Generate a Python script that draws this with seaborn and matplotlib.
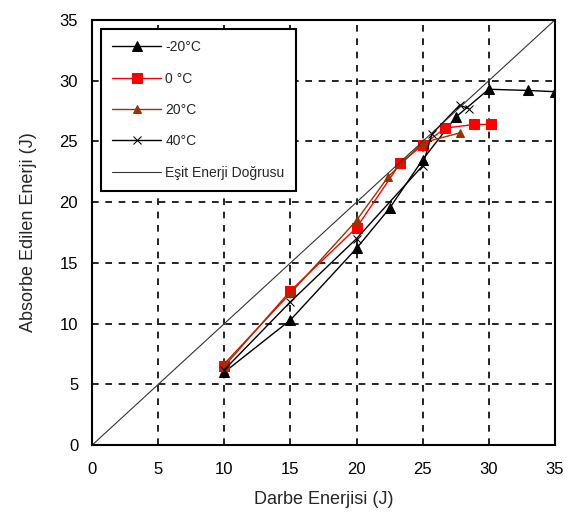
import pandas as pd
import seaborn as sns
import matplotlib
matplotlib.use('Agg')
import matplotlib.pyplot as plt

# veri (grafikten okunan yaklaşık değerler)
x_m20 = [10, 15, 20, 22.5, 25, 27.5, 30, 33, 35]
y_m20 = [6.0, 10.3, 16.2, 19.5, 23.5, 27.0, 29.3, 29.2, 29.1]
x_0 = [10, 15, 20, 23.3, 25, 26.7, 28.9, 30.2]
y_0 = [6.5, 12.7, 17.9, 23.2, 24.7, 26.1, 26.4, 26.4]
x_20 = [10, 15, 20, 22.4, 25, 27.8]
y_20 = [6.7, 12.5, 18.5, 22.1, 24.9, 25.7]
x_40 = [10, 15, 20, 25, 25.7, 27.8, 28.5]
y_40 = [6.2, 11.8, 17.0, 23.0, 25.6, 28.0, 27.7]
x_esit = [0, 35]
y_esit = [0, 35]

sns.set_style('white')
plt.rcParams['font.family'] = ['Liberation Sans', 'DejaVu Sans']

fig = plt.figure(figsize=(5.72, 5.2), dpi=100)
ax = fig.add_axes([0.161, 0.144, 0.809, 0.8175])

series = [
    ('-20°C', x_m20, y_m20, 'black', '^', 7),
    ('0 °C', x_0, y_0, '#ff0000', 's', 7),
    ('20°C', x_20, y_20, '#993300', '^', 6),
    ('40°C', x_40, y_40, 'black', 'x', 6),
]
for name, xs, ys, col, mk, ms in series:
    df = pd.DataFrame({'x': xs, 'y': ys})
    sns.lineplot(data=df, x='x', y='y', ax=ax, color=col, marker=mk,
                 markersize=ms, markeredgecolor=col, markerfacecolor=col,
                 linewidth=1.0, sort=False, estimator=None, label=name)

df_e = pd.DataFrame({'x': x_esit, 'y': y_esit})
sns.lineplot(data=df_e, x='x', y='y', ax=ax, color='#333333', linewidth=0.8,
             sort=False, estimator=None, label='Eşit Enerji Doğrusu')

ax.set_xlim(0, 35)
ax.set_ylim(0, 35)
ax.set_xticks(range(0, 36, 5))
ax.set_yticks(range(0, 36, 5))
ax.grid(True, color='black', linestyle=(0, (4, 4)), linewidth=1.2)
for s in ax.spines.values():
    s.set_color('black')
    s.set_linewidth(1.5)
ax.tick_params(direction='inout', length=8, width=1.2, labelsize=12,
               colors='black')
ax.tick_params(axis='x', pad=8)
ax.tick_params(axis='y', pad=6)
ax.set_xlabel('Darbe Enerjisi (J)', fontsize=13, labelpad=10)
ax.set_ylabel('Absorbe Edilen Enerji (J)', fontsize=13, labelpad=16)

leg = ax.legend(loc='upper left', fontsize=10, frameon=True, fancybox=False,
                framealpha=1, edgecolor='black', handlelength=3.5,
                labelspacing=1.25, borderpad=0.8, handletextpad=0.3,
                bbox_to_anchor=(0.005, 0.995))
leg.get_frame().set_linewidth(1.5)

fig.savefig('out.png', dpi=100)
